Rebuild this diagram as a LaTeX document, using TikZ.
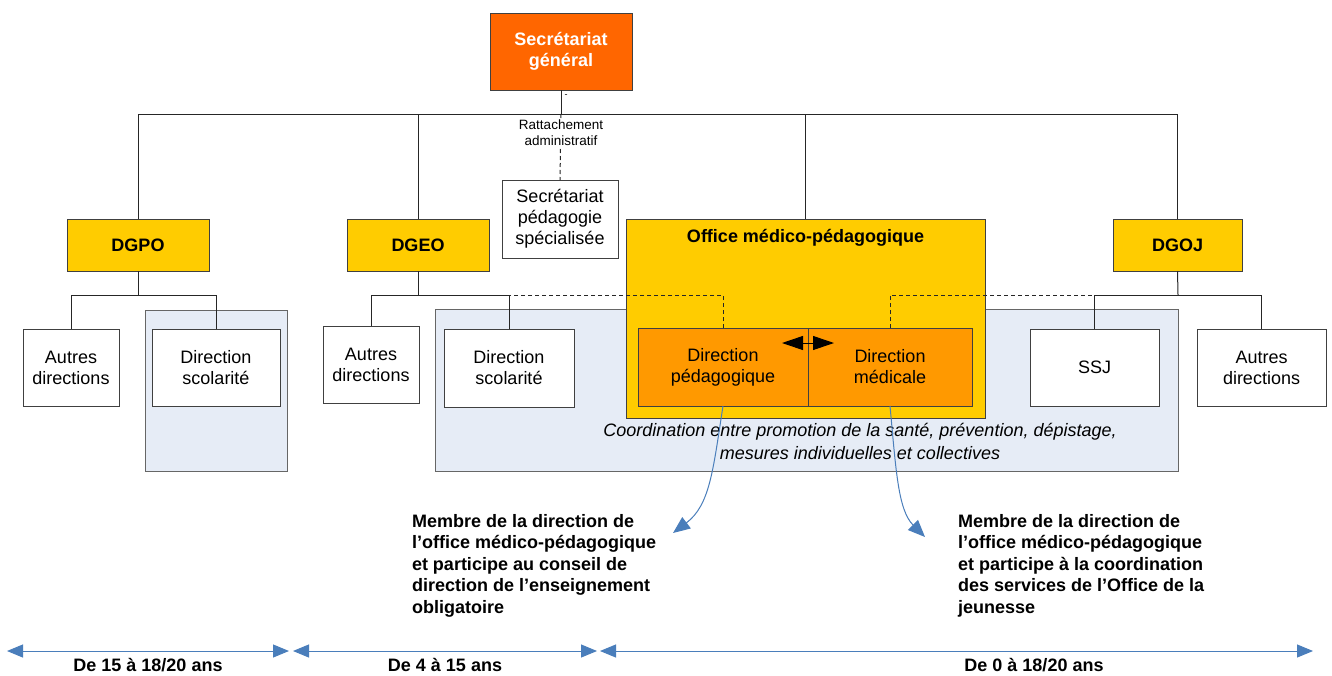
\documentclass[tikz,border=0pt]{standalone}
\usepackage{fontspec}
\setmainfont{Liberation Sans}
\usetikzlibrary{arrows.meta}
\definecolor{sgor}{HTML}{FF6600}
\definecolor{gold}{HTML}{FFCC00}
\definecolor{dor}{HTML}{FF9900}
\definecolor{pale}{HTML}{E6ECF6}
\definecolor{arrblue}{HTML}{4A7EBB}
\newcommand{\fsz}[2]{\fontsize{#1}{#2}\selectfont}
\begin{document}
\begin{tikzpicture}[x=1pt,y=-1pt,
  conn/.style={draw=black!85,line width=1pt},
  dconn/.style={draw=black!85,line width=1pt,dash pattern=on 4pt off 3pt},
  basebox/.style={draw=black!75,line width=1pt,align=center,inner sep=0pt,outer sep=0pt,font={\fsz{18}{21}}},
  wbox/.style={basebox,fill=white},
  ybox/.style={basebox,fill=gold,font={\fsz{18}{21}\bfseries}},
  obox/.style={basebox,fill=dor},
  region/.style={draw=black!60,line width=1pt,fill=pale},
  note/.style={align=left,inner sep=0pt,outer sep=0pt,font={\fsz{18}{21.6}\bfseries}},
  agelbl/.style={inner sep=0pt,font={\fsz{18}{21}\bfseries}},
  bluearr/.style={draw=arrblue,line width=1pt,-{Triangle[length=17pt,width=14pt]}},
  agearr/.style={draw=arrblue,line width=1pt,{Triangle[length=16pt,width=13pt]}-{Triangle[length=16pt,width=13pt]}},
  duo/.style={draw=black,line width=1pt,{Triangle[length=21pt,width=14pt]}-{Triangle[length=21pt,width=14pt]}}
]
\useasboundingbox (0,0) rectangle (1332,675);
\fill[white] (0,0) rectangle (1332,675);

% shaded regions
\draw[region] (145,310) rectangle (287,471);
\draw[region] (435,309) rectangle (1178,471);

% office
\node[basebox,fill=gold,minimum width=359pt,minimum height=199pt] (omp) at (805.5,318.5) {};
\node[inner sep=0pt,font={\fsz{18}{21}\bfseries}] (omptitle) at (805.5,238) {Office médico-pédagogique};

% top boxes
\node[basebox,fill=sgor,text=white,font={\fsz{18}{21}\bfseries},minimum width=142pt,minimum height=77pt] (sg) at (561,51.5) {Secrétariat\\général};
\node[ybox,minimum width=142pt,minimum height=52pt] (dgpo) at (138,245) {DGPO};
\node[ybox,minimum width=142pt,minimum height=52pt] (dgeo) at (418,245) {DGEO};
\node[ybox,minimum width=129pt,minimum height=52pt] (dgoj) at (1177.5,245) {DGOJ};
\node[wbox,minimum width=116pt,minimum height=78pt] (sps) at (560,219) {Secrétariat\\pédagogie\\spécialisée};

% children
\node[wbox,minimum width=96pt,minimum height=77pt] (ad1) at (71,367.5) {Autres\\directions};
\node[wbox,minimum width=128pt,minimum height=77pt] (ds1) at (216,367.5) {Direction\\scolarité};
\node[wbox,minimum width=96pt,minimum height=77pt] (ad2) at (371,364.5) {Autres\\directions};
\node[wbox,minimum width=130pt,minimum height=78pt] (ds2) at (509,368) {Direction\\scolarité};
\node[obox,minimum width=170pt,minimum height=78pt] (dp) at (723,367) {Direction\\pédagogique};
\node[obox,minimum width=164pt,minimum height=78pt] (dm) at (890,367) {Direction\\médicale};
\node[wbox,minimum width=129pt,minimum height=77pt] (ssj) at (1094.5,367.5) {SSJ};
\node[wbox,minimum width=129pt,minimum height=77pt] (ad3) at (1261.5,367.5) {Autres\\directions};

% buses
\coordinate (bus) at (561,114);
\coordinate (b1) at (138,295);
\coordinate (b2) at (418,295);
\coordinate (b3) at (1178,295);

\draw[conn] (sg) -- (bus);
\draw[conn] (dgpo.north) |- (bus);
\draw[conn] (dgoj.north) |- (bus);
\draw[conn] (dgeo.north) -- (dgeo.north |- bus);
\draw[conn] (omp.north) -- (omp.north |- bus);
\draw[dconn] (bus) -- (sps.north);
\node[inner sep=0pt,font={\fsz{9}{9}}] (tick) at (566,96) {-};
\node[fill=white,inner sep=1pt,align=center,font={\fsz{13.5}{16}}] (ratt) at (561,133) {Rattachement\\administratif};

\draw[conn] (dgpo.south) -- (b1);
\draw[conn] (ad1.north) |- (b1);
\draw[conn] (ds1.north) |- (b1);

\draw[conn] (dgeo.south) -- (b2);
\draw[conn] (ad2.north) |- (b2);
\draw[conn] (ds2.north) |- (b2);
\draw[dconn] (dp.north) |- (b2);

\draw[conn] (dgoj.south) -- (b3);
\draw[conn] (ssj.north) |- (b3);
\draw[conn] (ad3.north) |- (b3);
\draw[dconn] (dm.north) |- (b3);

% double arrow between directions
\coordinate (da) at (782,343);
\coordinate (db) at (834,343);
\draw[duo] (da) -- (db);

% coordination text
\node[inner sep=0pt,align=center,font={\fsz{18}{23}\itshape}] (coord) at (860,441) {Coordination entre promotion de la santé, prévention, dépistage,\\mesures individuelles et collectives};

% notes
\node[note,anchor=north west] (n1) at (412,514) {Membre de la direction de\\l’office médico-pédagogique\\et participe au conseil de\\direction de l’enseignement\\obligatoire};
\node[note,anchor=north west] (n2) at (958,514) {Membre de la direction de\\l’office médico-pédagogique\\et participe à la coordination\\des services de l’Office de la\\jeunesse};

\draw[bluearr] (dp.south) .. controls (713,470) and (710,505) .. (673,533);
\draw[bluearr] (dm.south) .. controls (896,470) and (898,510) .. (925,537);

% age ranges
\coordinate (a0) at (7,651);
\coordinate (a1) at (289,651);
\coordinate (a2) at (293,651);
\coordinate (a3) at (597,651);
\coordinate (a4) at (600,651);
\coordinate (a5) at (1313,651);
\draw[agearr] (a0) -- (a1);
\draw[agearr] (a2) -- (a3);
\draw[agearr] (a4) -- (a5);
\node[agelbl] (l1) at (148,665) {De 15 à 18/20 ans};
\node[agelbl] (l2) at (445,665) {De 4 à 15 ans};
\node[agelbl] (l3) at (1034,665) {De 0 à 18/20 ans};
\end{tikzpicture}
\end{document}
